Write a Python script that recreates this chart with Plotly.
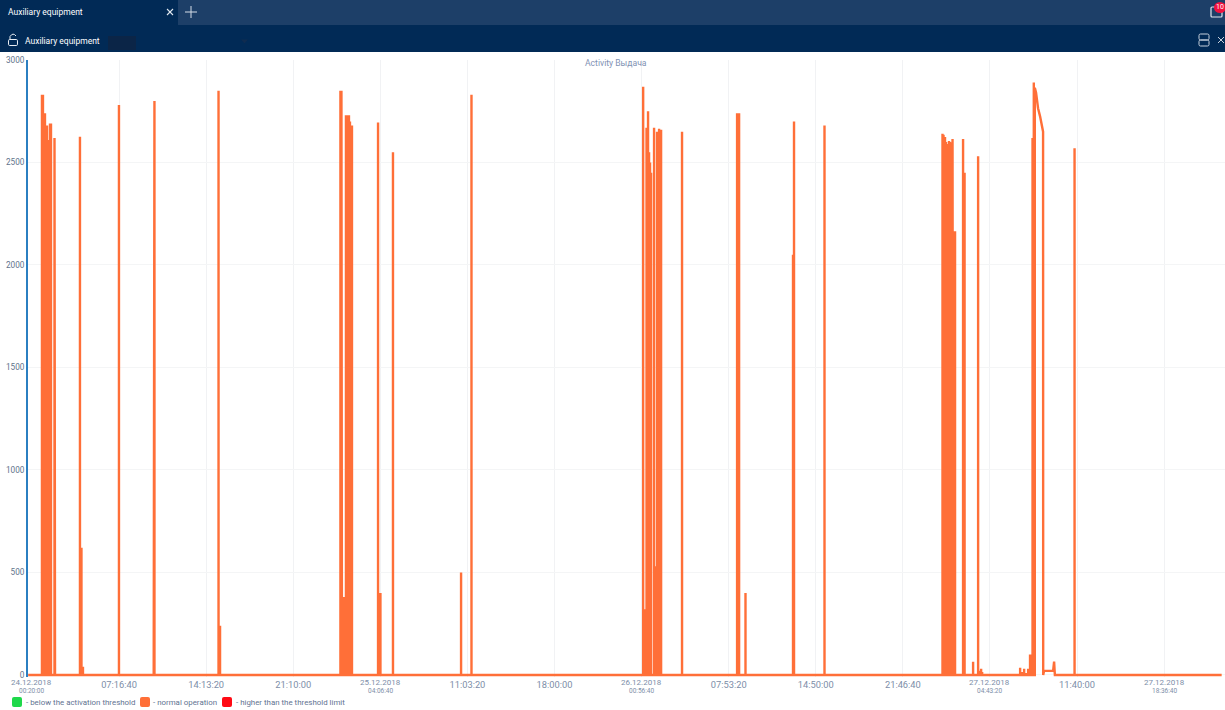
import pandas as pd
import plotly.graph_objects as go

W, H = 1225, 710

# ---- data -----------------------------------------------------------------
START = pd.Timestamp("2018-12-24 00:00:00")
spike_hours = [1.13, 1.21, 1.29, 1.37, 1.45, 1.53, 1.61, 1.69, 1.77, 1.85, 2.13, 2.17,
               4.16, 4.28, 4.40, 7.27, 10.04, 10.10, 15.21, 15.33,
               24.93, 25.01, 25.05, 25.13, 25.21, 25.29, 25.37, 25.45, 25.53, 25.61, 25.69, 25.77, 25.85,
               27.93, 28.12, 29.12, 34.55, 35.38,
               49.07, 49.24, 49.34, 49.46, 49.54, 49.62, 49.70, 49.94, 50.06, 50.18, 50.34, 50.50,
               52.17, 56.56, 56.64, 56.72, 57.23, 61.02, 61.10, 63.53,
               72.94, 73.02, 73.14, 73.22, 73.30, 73.38, 73.46, 73.54, 73.62, 73.74, 73.78, 73.86, 73.94,
               74.58, 74.70, 75.38, 75.78, 75.94, 76.02, 76.10,
               79.13, 79.29, 79.45, 79.61, 79.77, 79.92, 80.00, 80.12, 80.22, 80.30, 83.47]
spike_values = [2830, 2830, 2740, 2740, 2680, 2680, 2600, 2610, 2690, 2690, 2620, 2620,
                2625, 620, 40, 2780, 270, 2800, 2850, 240,
                2850, 2850, 2760, 380, 380, 380, 2730, 2730, 2640, 2730, 2700, 2680, 2680,
                2695, 400, 2550, 500, 2830,
                2870, 320, 2670, 2750, 2550, 2500, 2450, 2670, 530, 2650, 2665, 2660,
                2650, 2740, 2740, 2740, 400, 2050, 2700, 2680,
                2640, 2635, 2624, 2600, 2590, 270, 2605, 2600, 2595, 2615, 2610, 2165, 2165,
                2615, 2450, 65, 2530, 20, 30, 15,
                35, 15, 30, 10, 30, 100, 100, 2620, 2890, 2860, 2570]
# Slow decline after the last large peak, then a low plateau
ramp_hours = [80.32, 80.40, 80.56, 80.72, 80.84, 80.96, 80.97, 81.04, 81.76, 81.84, 81.90]
ramp_values = [2860, 2840, 2765, 2725, 2680, 2650, 0, 20, 20, 65, 0]
first_hour, last_hour = 0.03, 95.2

tick_times = ["2018-12-24 07:16:40", "2018-12-24 14:13:20", "2018-12-24 21:10:00",
              "2018-12-25 04:06:40", "2018-12-25 11:03:20", "2018-12-25 18:00:00",
              "2018-12-26 00:56:40", "2018-12-26 07:53:20", "2018-12-26 14:50:00",
              "2018-12-26 21:46:40", "2018-12-27 04:43:20", "2018-12-27 11:40:00",
              "2018-12-27 18:36:40"]
tick_labels = ["07:16:40", "14:13:20", "21:10:00", "", "11:03:20", "18:00:00", "",
               "07:53:20", "14:50:00", "21:46:40", "", "11:40:00", ""]
date_times = ["2018-12-24 00:20:00", "2018-12-25 04:06:40", "2018-12-26 00:56:40",
              "2018-12-27 04:43:20", "2018-12-27 18:36:40"]
date_labels = ["24.12.2018", "25.12.2018", "26.12.2018", "27.12.2018", "27.12.2018"]
date_sublabels = ["00:20:00", "04:06:40", "00:56:40", "04:43:20", "18:36:40"]
legend_labels = ["- below the activation threshold", "- normal operation",
                 "- higher than the threshold limit"]
legend_colors = ["#1fd84a", "#ff6f38", "#ff0a14"]
y_ticks = [0, 500, 1000, 1500, 2000, 2500, 3000]

# ---- build the line ---------------------------------------------------------
pts = [(first_hour, 0), (last_hour, 0)]
for t, v in zip(spike_hours, spike_values):
    pts += [(t, 0), (t, v), (t + 0.001, 0)]
pts += list(zip(ramp_hours, ramp_values))
pts.sort(key=lambda p: p[0])
xs = [START + pd.Timedelta(hours=p[0]) for p in pts]
ys = [p[1] for p in pts]

ORANGE = "#ff6f38"
TXT = "#7d8ea8"
px = lambda x: x / W
py = lambda y: 1 - y / H

fig = go.Figure(go.Scatter(x=xs, y=ys, mode="lines", hoverinfo="skip",
                           line=dict(color=ORANGE, width=2.4), showlegend=False))


def rect(x0, y0, x1, y1, color, line=None, width=0):
    fig.add_shape(type="rect", xref="paper", yref="paper", layer="above",
                  x0=px(x0), x1=px(x1), y0=py(y0), y1=py(y1), fillcolor=color,
                  line=dict(color=line or color, width=width))


def seg(x0, y0, x1, y1, color, width=1.2):
    fig.add_shape(type="line", xref="paper", yref="paper", layer="above",
                  x0=px(x0), x1=px(x1), y0=py(y0), y1=py(y1),
                  line=dict(color=color, width=width))


def text(x, y, s, size, color, anchor="left", family="Roboto"):
    fig.add_annotation(xref="paper", yref="paper", x=px(x), y=py(y), text=s, showarrow=False,
                       xanchor=anchor, yanchor="middle", borderpad=0, borderwidth=0,
                       font=dict(size=size, color=color, family=family))


def rrect_path(x0, y0, x1, y1, r):
    return (f"M{px(x0 + r)},{py(y0)} L{px(x1 - r)},{py(y0)} Q{px(x1)},{py(y0)} {px(x1)},{py(y0 + r)} "
            f"L{px(x1)},{py(y1 - r)} Q{px(x1)},{py(y1)} {px(x1 - r)},{py(y1)} "
            f"L{px(x0 + r)},{py(y1)} Q{px(x0)},{py(y1)} {px(x0)},{py(y1 - r)} "
            f"L{px(x0)},{py(y0 + r)} Q{px(x0)},{py(y0)} {px(x0 + r)},{py(y0)} Z")


# ---- app chrome -------------------------------------------------------------
rect(0, 0, W, 25, "#1d3f68")
rect(0, 25, W, 52, "#012a56")
rect(0, 0, 178, 25, "#012a56")
text(8, 12, "Auxiliary equipment", 8.5, "#ffffff")
seg(167, 9, 173, 15, "#dfe6ee", 1.1)
seg(173, 9, 167, 15, "#dfe6ee", 1.1)
seg(191, 6, 191, 18, "#d5dde7", 1)
seg(185, 12, 197, 12, "#d5dde7", 1)
# lock icon
fig.add_shape(type="path", xref="paper", yref="paper", layer="above",
              path=rrect_path(8.5, 39.5, 17.5, 45.5, 1.2), line=dict(color="#e8edf3", width=1))
fig.add_shape(type="path", xref="paper", yref="paper", layer="above",
              path=f"M{px(10)},{py(39.5)} L{px(10)},{py(36.5)} Q{px(13)},{py(32)} {px(16)},{py(36)}",
              line=dict(color="#e8edf3", width=1))
text(25, 41, "Auxiliary equipment", 8.5, "#ffffff")
rect(108, 36, 136, 50, "#0b2547")
fig.add_shape(type="path", xref="paper", yref="paper", layer="above",
              path=f"M{px(241)},{py(39.5)} L{px(248)},{py(39.5)} L{px(244.5)},{py(43.5)} Z",
              fillcolor="#0f2c50", line=dict(width=0))
# stacked panel icon and close
fig.add_shape(type="path", xref="paper", yref="paper", layer="above",
              path=rrect_path(1199, 34, 1209, 40, 1.5), line=dict(color="#c6d0dc", width=1))
fig.add_shape(type="path", xref="paper", yref="paper", layer="above",
              path=rrect_path(1199, 40, 1209, 46, 1.5), line=dict(color="#c6d0dc", width=1))
seg(1218, 37, 1224, 43, "#c6d0dc", 1)
seg(1224, 37, 1218, 43, "#c6d0dc", 1)
# message icon with badge
fig.add_shape(type="path", xref="paper", yref="paper", layer="above",
              path=rrect_path(1211, 7, 1222, 17, 1), line=dict(color="#dfe6ee", width=1.2))
fig.add_shape(type="circle", xref="paper", yref="paper", layer="above",
              x0=px(1214), x1=px(1226), y0=py(2), y1=py(13), fillcolor="#f0123f", line=dict(width=0))
text(1216, 7, "10", 7, "#ffffff")

# ---- chart texts ------------------------------------------------------------
text(616, 63.5, "Activity Выдача", 8.6, "#7f92b4", "center")
for t, a, b in zip(date_times, date_labels, date_sublabels):
    fig.add_annotation(x=t, xref="x", yref="paper", y=py(682), text=a, showarrow=False,
                       xanchor="center", yanchor="middle",
                       font=dict(size=8, color=TXT, family="Roboto"))
    fig.add_annotation(x=t, xref="x", yref="paper", y=py(690.5), text=b, showarrow=False,
                       xanchor="center", yanchor="middle",
                       font=dict(size=6.5, color=TXT, family="Roboto"))

# ---- legend -----------------------------------------------------------------
for x0, col in zip([12, 140, 222], legend_colors):
    fig.add_shape(type="path", xref="paper", yref="paper", layer="above",
                  path=rrect_path(x0, 697, x0 + 10, 707, 2), fillcolor=col, line=dict(width=0))
for x0, lab in zip([26, 153, 236], legend_labels):
    text(x0, 702.5, lab, 7.9, "#5f7391")

fig.update_layout(
    width=W, height=H, margin=dict(l=0, r=0, t=0, b=0, pad=0, autoexpand=False),
    paper_bgcolor="#ffffff", plot_bgcolor="#ffffff", showlegend=False,
    xaxis=dict(domain=[px(28), 1], type="date",
               range=["2018-12-24 00:01:00", "2018-12-27 23:28:00"],
               tickmode="array", tickvals=tick_times, ticktext=tick_labels,
               showgrid=True, gridcolor="#f1f2f4", gridwidth=1, zeroline=False, showline=False,
               ticks="", tickangle=0, ticklabelstandoff=1,
               tickfont=dict(size=9.3, color=TXT, family="Roboto")),
    yaxis=dict(domain=[py(677), py(60)], range=[-10, 3000],
               tickmode="array", tickvals=y_ticks, ticktext=[str(v) for v in y_ticks],
               showgrid=True, gridcolor="#f4f5f6", gridwidth=1, zeroline=False,
               showline=True, linecolor="#2b7fc1", linewidth=2, ticks="", ticklabelstandoff=0,
               tickfont=dict(size=8.2, color="#62738c", family="Roboto")),
)

fig.write_html("out.html", config=dict(displayModeBar=False),
               post_script="document.body.style.margin='0';document.body.style.overflow='hidden';")
